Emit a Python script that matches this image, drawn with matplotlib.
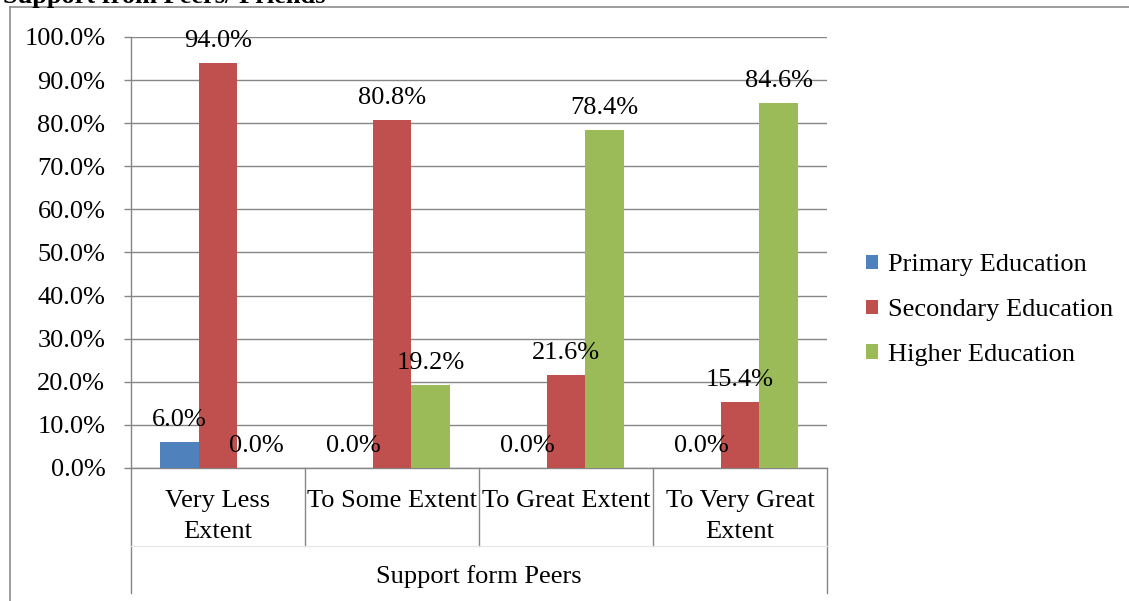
import matplotlib
matplotlib.use("Agg")
import matplotlib.pyplot as plt
from matplotlib.lines import Line2D
import numpy as np

categories = ["Very Less\nExtent", "To Some Extent", "To Great Extent", "To Very Great\nExtent"]
group_label = "Support form Peers"
series_names = ["Primary Education", "Secondary Education", "Higher Education"]
primary = [6.0, 0.0, 0.0, 0.0]
secondary = [94.0, 80.8, 21.6, 15.4]
higher = [0.0, 19.2, 78.4, 84.6]
title = "Support from Peers/ Friends"

colors = ["#4F81BD", "#C0504D", "#9BBB59"]
grid_color = "#868686"

plt.rcParams["font.family"] = ["Liberation Serif", "DejaVu Serif"]
FS = 19

W, H = 1129, 601
fig = plt.figure(figsize=(W / 100, H / 100), dpi=100)
ax = fig.add_axes([131 / W, 1 - 468 / H, (827 - 131) / W, (468 - 37) / H])

x = np.arange(len(categories))
bw = 1 / 4.5
for i, (vals, name, col) in enumerate(zip([primary, secondary, higher], series_names, colors)):
    pos = x + (i - 1) * bw
    ax.bar(pos, vals, width=bw, color=col, label=name, zorder=3)
    for px, v in zip(pos, vals):
        ax.annotate(f"{v:.1f}%", (px, v), xytext=(0, 11.5), textcoords="offset points",
                    ha="center", va="baseline", fontsize=FS, zorder=4)

ax.set_xlim(-0.5, len(categories) - 0.5)
ax.set_ylim(0, 100)
yt = np.arange(0, 101, 10)
ax.set_yticks(yt, [f"{v:.1f}%" for v in yt])
ax.tick_params(axis="y", length=5, width=1, color=grid_color, pad=13.5, labelsize=FS)
ax.yaxis.grid(True, color=grid_color, lw=1, zorder=0)
ax.set_axisbelow(True)

ax.set_xticks(x, categories)
ax.tick_params(axis="x", length=0, pad=16, labelsize=FS)
for lbl in ax.get_xticklabels():
    lbl.set_linespacing(1.52)

for s in ["top", "right"]:
    ax.spines[s].set_visible(False)
for s in ["left", "bottom"]:
    ax.spines[s].set_color(grid_color)
    ax.spines[s].set_linewidth(1)

# category separators and outer bounds of the group band
trans = ax.get_xaxis_transform()
for b in np.arange(len(categories) + 1) - 0.5:
    bottom = -0.29 if b in (-0.5, len(categories) - 0.5) else -0.181
    ax.plot([b, b], [0, bottom], transform=trans, color=grid_color, lw=1, clip_on=False)
ax.plot([-0.5, len(categories) - 0.5], [-0.181, -0.181], transform=trans,
        color="#e6e6e6", lw=0.8, clip_on=False)
ax.text((len(categories) - 1) / 2, -0.267, group_label, transform=trans,
        ha="center", va="baseline", fontsize=FS)

leg = fig.legend(loc="center left", bbox_to_anchor=(866 / W, 1 - 310 / H), frameon=False,
                 fontsize=FS, handlelength=0.45, handleheight=0.45, handletextpad=0.4,
                 labelspacing=0.87, borderpad=0, borderaxespad=0)

# outer chart frame
fig.add_artist(Line2D([10 / W, 10 / W], [0, 1 - 7 / H], color="#8c8c8c", lw=1.2))
fig.add_artist(Line2D([10 / W, 1], [1 - 7 / H, 1 - 7 / H], color="#8c8c8c", lw=1.2))
fig.text(3 / W, 1 - 3 / H, title, ha="left", va="baseline", fontsize=FS, fontweight="bold")

fig.savefig("out.png", dpi=100)
